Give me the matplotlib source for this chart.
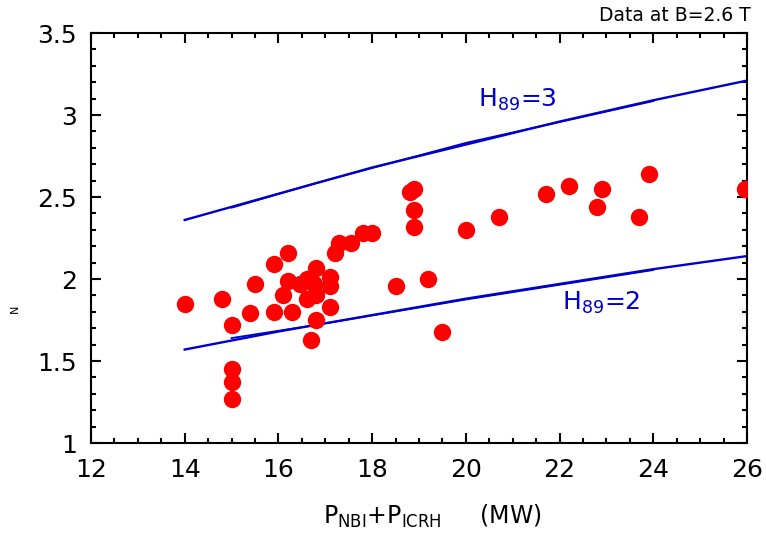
import numpy as np
import matplotlib
matplotlib.use('Agg')
import matplotlib.pyplot as plt
from matplotlib.ticker import MultipleLocator

# measured points: heating power (MW) vs normalised beta
power = [14.0, 14.8, 15.0, 15.0, 15.0, 15.0, 15.4, 15.5, 15.9, 15.9,
         16.2, 16.2, 16.1, 16.3, 16.45, 16.6, 16.8, 16.6, 16.8, 17.1,
         17.1, 17.1, 16.8, 16.7, 16.75, 17.2, 17.3, 17.55, 17.8, 18.0,
         18.8, 18.9, 18.9, 18.9, 20.0, 20.7, 21.7, 22.2, 22.9, 22.8,
         23.7, 23.9, 25.95, 18.5, 19.2, 19.5]
beta_n = [1.85, 1.88, 1.72, 1.45, 1.37, 1.27, 1.79, 1.97, 2.09, 1.80,
          2.16, 1.99, 1.90, 1.80, 1.97, 2.00, 2.07, 1.88, 1.90, 2.01,
          1.96, 1.83, 1.75, 1.63, 1.97, 2.16, 2.22, 2.22, 2.28, 2.28,
          2.53, 2.55, 2.42, 2.32, 2.30, 2.38, 2.52, 2.57, 2.55, 2.44,
          2.38, 2.64, 2.55, 1.96, 2.00, 1.68]

# H89 reference curves
h_power = [14, 16, 18, 20, 22, 24, 26]
h3_beta = [2.36, 2.52, 2.68, 2.82, 2.96, 3.09, 3.21]
h2_beta = [1.57, 1.68, 1.78, 1.88, 1.97, 2.06, 2.14]
# second, nearly overlapping copies (shorter range)
h_power_b = [15.0, 16.8, 20.0, 24.0]
h3_beta_b = [2.435, 2.585, 2.83, 3.085]
h2_beta_b = [1.64, 1.72, 1.875, 2.055]

blue = '#0000cc'

fig = plt.figure(figsize=(7.66, 5.37), dpi=100)
ax = fig.add_axes([0.1188, 0.175, 0.8564, 0.7635])

ax.plot(h_power, h3_beta, color=blue, lw=1.7)
ax.plot(h_power_b, h3_beta_b, color=blue, lw=1.3)
ax.plot(h_power, h2_beta, color=blue, lw=1.7)
ax.plot(h_power_b, h2_beta_b, color=blue, lw=1.3)

ax.plot(power, beta_n, 'o', color='#ff0000', ms=12.5, mec='none', zorder=3)

ax.set_xlim(12, 26)
ax.set_ylim(1, 3.5)
ax.xaxis.set_major_locator(MultipleLocator(2))
ax.xaxis.set_minor_locator(MultipleLocator(0.5))
ax.yaxis.set_major_locator(MultipleLocator(0.5))
ax.yaxis.set_minor_locator(MultipleLocator(0.1))
ax.set_yticks([1, 1.5, 2, 2.5, 3, 3.5])
ax.set_yticklabels(['1', '1.5', '2', '2.5', '3', '3.5'])

ax.tick_params(which='both', direction='in', top=True, right=True, width=1.5)
ax.tick_params(which='major', length=7, labelsize=18)
ax.tick_params(axis='x', which='major', pad=11)
ax.tick_params(axis='y', which='major', pad=10)
ax.tick_params(which='minor', length=3.5)
for s in ax.spines.values():
    s.set_linewidth(1.5)

ax.set_xlabel(r'$\mathregular{P_{NBI}}$+$\mathregular{P_{ICRH}}$     (MW)',
              fontsize=17)
ax.xaxis.set_label_coords(0.52, -0.145)
ax.xaxis.label.set_va('top')
fig.text(0.02, 0.425, 'N', rotation=90, fontsize=8, ha='center', va='center')
fig.text(0.98, 0.972, 'Data at B=2.6 T', fontsize=13.5, ha='right', va='center')

ax.text(20.26, 3.05, r'$\mathregular{H_{89}}$=3', color=blue, fontsize=18)
ax.text(22.05, 1.81, r'$\mathregular{H_{89}}$=2', color=blue, fontsize=18)

fig.savefig('out.png', dpi=100)
